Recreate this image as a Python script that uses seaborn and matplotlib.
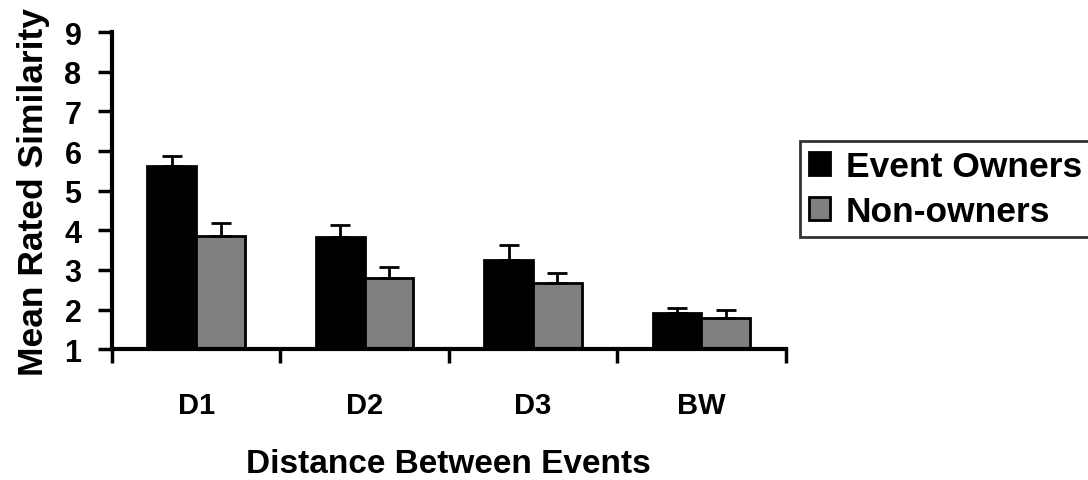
import numpy as np
import pandas as pd
import matplotlib
matplotlib.use("Agg")
import matplotlib.pyplot as plt
import seaborn as sns
from matplotlib.ticker import FixedLocator

categories = ["D1", "D2", "D3", "BW"]
groups = ["Event Owners", "Non-owners"]
owners_mean = [5.62, 3.83, 3.25, 1.91]
owners_err = [0.25, 0.30, 0.38, 0.12]
nonowners_mean = [3.85, 2.79, 2.67, 1.78]
nonowners_err = [0.33, 0.28, 0.25, 0.20]

df = pd.DataFrame({
    "dist": categories * 2,
    "group": [groups[0]] * 4 + [groups[1]] * 4,
    "mean": owners_mean + nonowners_mean,
})

sns.set_style("white")
plt.rcParams["font.family"] = ["Liberation Sans", "DejaVu Sans"]
plt.rcParams["font.weight"] = "bold"
plt.rcParams["text.color"] = "black"
plt.rcParams["axes.labelcolor"] = "black"
plt.rcParams["xtick.color"] = "black"
plt.rcParams["ytick.color"] = "black"

fig = plt.figure(figsize=(10.88, 4.81), dpi=100)
ax = fig.add_axes([0.103, 0.272, 0.619, 0.659])

sns.barplot(data=df, x="dist", y="mean", hue="group", order=categories,
            hue_order=groups, palette=["#000000", "#808080"], width=0.58,
            errorbar=None, edgecolor="black", linewidth=2, ax=ax)

# upward-only error bars at the bar centres
errs = owners_err + nonowners_err
means = owners_mean + nonowners_mean
for p, m, e in zip(ax.patches[:8], means, errs):
    xc = p.get_x() + p.get_width() / 2
    ax.errorbar(xc, m, yerr=[[0], [e]], fmt="none", ecolor="black",
                elinewidth=2, capsize=7, capthick=2, zorder=1)

ax.set_ylim(1, 9)
ax.set_xlim(-0.5, 3.5)
ax.set_yticks(range(1, 10))
ax.tick_params(axis="y", labelsize=22, length=10, width=2.5, direction="out",
               pad=12, left=True)
ax.xaxis.set_minor_locator(FixedLocator([-0.5, 0.5, 1.5, 2.5, 3.5]))
ax.tick_params(axis="x", which="major", length=0, labelsize=21, pad=30)
ax.tick_params(axis="x", which="minor", length=10, width=2.5,
               direction="out", bottom=True)
for lab in ax.get_xticklabels() + ax.get_yticklabels():
    lab.set_fontweight("bold")
    lab.set_color("black")

for s in ["top", "right"]:
    ax.spines[s].set_visible(False)
for s in ["left", "bottom"]:
    ax.spines[s].set_linewidth(3)
    ax.spines[s].set_color("black")

ax.set_xlabel("Distance Between Events", fontsize=24, fontweight="bold",
              labelpad=21, color="black")
ax.set_ylabel("Mean Rated Similarity", fontsize=25.5, fontweight="bold",
              labelpad=10, color="black")

ax.legend(loc="upper left", bbox_to_anchor=(0.735, 0.705),
          bbox_transform=fig.transFigure, fontsize=25.5, frameon=True,
          fancybox=False, edgecolor="black", handlelength=0.6,
          handleheight=0.6, handletextpad=0.45, borderpad=0.25,
          labelspacing=0.35, borderaxespad=0)
leg = ax.get_legend()
leg.get_frame().set_linewidth(2)
for t in leg.get_texts():
    t.set_fontweight("bold")
    t.set_color("black")

fig.savefig("out.png", dpi=100)
